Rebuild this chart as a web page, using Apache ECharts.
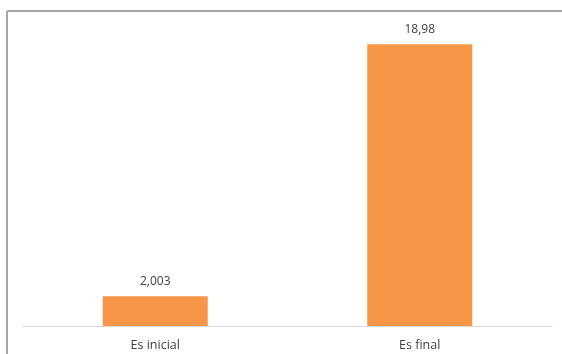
<!DOCTYPE html>
<html>
<head>
<meta charset="utf-8">
<script src="https://cdn.jsdelivr.net/npm/echarts@6/dist/echarts.min.js"></script>
<style>
html,body{margin:0;padding:0;background:#fff;}
#chart{width:562px;height:354px;}
</style>
</head>
<body>
<div id="chart"></div>
<script>
const categories = ['Es inicial', 'Es final'];
const values = [2.003, 18.98];
const valueLabels = ['2,003', '18,98'];

const chart = echarts.init(document.getElementById('chart'), null, {renderer: 'canvas'});
chart.setOption({
  animation: false,
  backgroundColor: '#fff',
  grid: {left: 23, right: 10, top: 29, bottom: 28, containLabel: false},
  xAxis: {
    type: 'category',
    data: categories,
    axisLine: {lineStyle: {color: '#d9d9d9', width: 1}},
    axisTick: {show: false},
    axisLabel: {color: '#404040', fontSize: 12.5, fontFamily: 'Open Sans, sans-serif', margin: 13}
  },
  yAxis: {
    type: 'value',
    min: 0, max: 20,
    show: false,
    splitLine: {show: false}
  },
  series: [{
    type: 'bar',
    data: values,
    barWidth: 105,
    itemStyle: {color: '#f79646'},
    label: {
      show: true,
      position: 'top',
      distance: 9,
      color: '#404040',
      fontSize: 12,
      fontFamily: 'Open Sans, sans-serif',
      formatter: p => valueLabels[p.dataIndex]
    }
  }],
  graphic: [
    {type: 'line', shape: {x1: 7, y1: 11, x2: 562, y2: 11}, style: {stroke: '#a6a6a6', lineWidth: 2}},
    {type: 'line', shape: {x1: 7, y1: 11, x2: 7, y2: 354}, style: {stroke: '#a6a6a6', lineWidth: 2}}
  ]
});
</script>
</body>
</html>
